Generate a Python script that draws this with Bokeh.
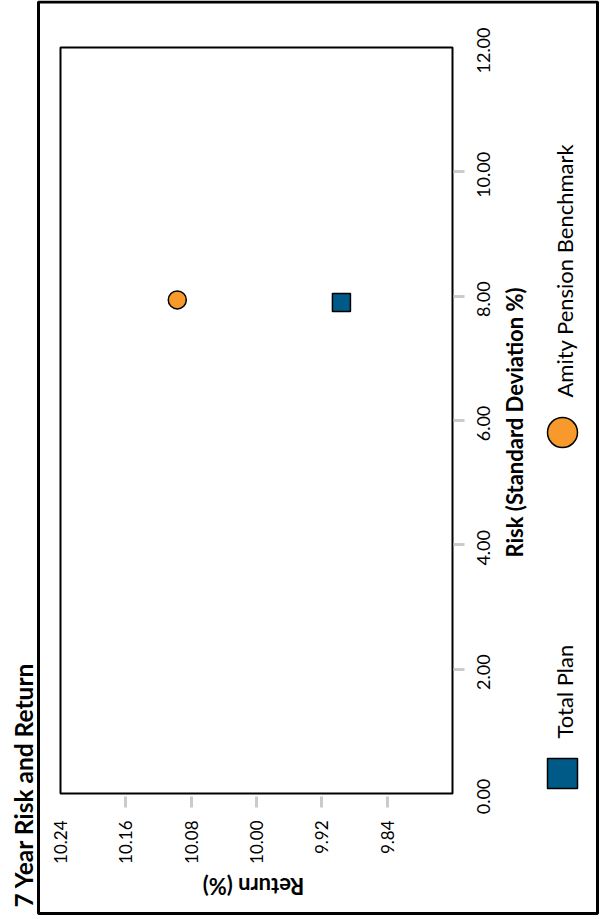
import math
from bokeh.plotting import figure
from bokeh.models import Range1d, FixedTicker, PrintfTickFormatter
from bokeh.embed import file_html
from bokeh.resources import INLINE
from bokeh.core.properties import value

# ---------------- data ----------------
series_names = ["Total Plan", "Amity Pension Benchmark"]
risk_values = [7.90, 7.94]          # Risk (Standard Deviation %)
return_values = [9.896, 10.097]     # Return (%)
marker_types = ["square", "circle"]
series_colors = ["#005a87", "#f7992b"]

risk_ticks = [0, 2, 4, 6, 8, 10, 12]
return_ticks = [9.84, 9.92, 10.00, 10.08, 10.16, 10.24]
risk_range = (0, 12)
return_range = (10.24, 9.76)        # reversed: the whole chart is turned 90 degrees

title_text = "7 Year Risk and Return"
risk_title = "Risk (Standard Deviation %)"
return_title = "Return (%)"

# ---------------- layout (pixels) ----------------
W, H = 600, 916
BOX_L, BOX_T, BOX_W, BOX_H = 60, 47, 392, 746     # plot box on the canvas
BOX_B = BOX_T + BOX_H
FONT = "Lato"
TICK_GRAY = "#c9cbcd"


def px_to_x(px):
    return return_range[0] + (px - BOX_L) * (return_range[1] - return_range[0]) / BOX_W


def py_to_y(py):
    return risk_range[0] + (BOX_B - py) * (risk_range[1] - risk_range[0]) / BOX_H


p = figure(width=W, height=H, output_backend="svg", toolbar_location=None,
           x_range=Range1d(px_to_x(0), px_to_x(W)),
           y_range=Range1d(py_to_y(H), py_to_y(0)),
           y_axis_location="right", min_border=0)
p.xgrid.visible = False
p.ygrid.visible = False
p.outline_line_color = None
p.background_fill_color = "white"
p.border_fill_color = "white"

# ---------------- axes (placed on the plot box edges) ----------------
xa = p.xaxis[0]
xa.fixed_location = risk_range[0]
xa.ticker = FixedTicker(ticks=return_ticks, minor_ticks=return_ticks[:-1])
xa.formatter = PrintfTickFormatter(format="%.2f")
xa.major_label_orientation = math.pi / 2
xa.axis_line_color = None
xa.major_tick_line_color = None
xa.major_tick_in = 0
xa.major_tick_out = 14
xa.minor_tick_line_color = TICK_GRAY
xa.minor_tick_line_width = 3
xa.minor_tick_in = -3
xa.minor_tick_out = 14
xa.major_label_standoff = 13
xa.major_label_text_font = FONT
xa.major_label_text_font_size = "17px"
xa.major_label_text_color = "black"

ya = p.yaxis[0]
ya.fixed_location = return_range[1]
ya.ticker = FixedTicker(ticks=[], minor_ticks=risk_ticks[1:-1])
ya.axis_line_color = None
ya.major_tick_line_color = None
ya.minor_tick_line_color = TICK_GRAY
ya.minor_tick_line_width = 3
ya.minor_tick_in = -1
ya.minor_tick_out = 12

# risk tick labels, centred on the ticks and reading upwards
p.text(x=[px_to_x(483)] * len(risk_ticks), y=risk_ticks,
       text=["%.2f" % t for t in risk_ticks], angle=math.pi / 2, y_offset=3,
       text_align="center", text_baseline="middle", text_font=value(FONT),
       text_font_size="18px", text_color="black")

# ---------------- frames ----------------
p.quad(left=[px_to_x(38)], right=[px_to_x(597)], top=[py_to_y(1.5)], bottom=[py_to_y(913)],
       fill_color=None, line_color="black", line_width=3)
p.quad(left=[return_range[0]], right=[return_range[1]], top=[risk_range[1]], bottom=[risk_range[0]],
       fill_color=None, line_color="black", line_width=2)

# ---------------- points ----------------
for ret, risk, m, c in zip(return_values, risk_values, marker_types, series_colors):
    p.scatter([ret], [risk], marker=m, size=18, fill_color=c,
              line_color="black", line_width=1.5)

# ---------------- legend ----------------
legend_marker_py = [773, 432]
legend_text_py = [738, 397]
for name, m, c, my, ty in zip(series_names, marker_types, series_colors,
                              legend_marker_py, legend_text_py):
    p.scatter([px_to_x(562)], [py_to_y(my)], marker=m, size=30, fill_color=c,
              line_color="black", line_width=1.5)
    p.text(x=[px_to_x(564)], y=[py_to_y(ty)], text=[name], angle=math.pi / 2,
           text_align="left", text_baseline="middle", text_font=value(FONT),
           text_font_size="22px", text_color="black")

# ---------------- titles ----------------
p.text(x=[px_to_x(22.5)], y=[py_to_y(907)], text=[title_text], angle=math.pi / 2,
       text_align="left", text_baseline="middle", text_font=value(FONT),
       text_font_style="bold", text_font_size="24.5px", text_color="black")

p.text(x=[px_to_x(513.5)], y=[py_to_y(422)], text=[risk_title], angle=math.pi / 2,
       text_align="center", text_baseline="middle", text_font=value(FONT),
       text_font_style="bold", text_font_size="22px", text_color="black")

p.text(x=[px_to_x(253)], y=[py_to_y(886)], text=[return_title], angle=math.pi,
       text_align="center", text_baseline="middle", text_font=value(FONT),
       text_font_style="bold", text_font_size="22px", text_color="black")

open("out.html", "w").write(file_html(p, INLINE))
